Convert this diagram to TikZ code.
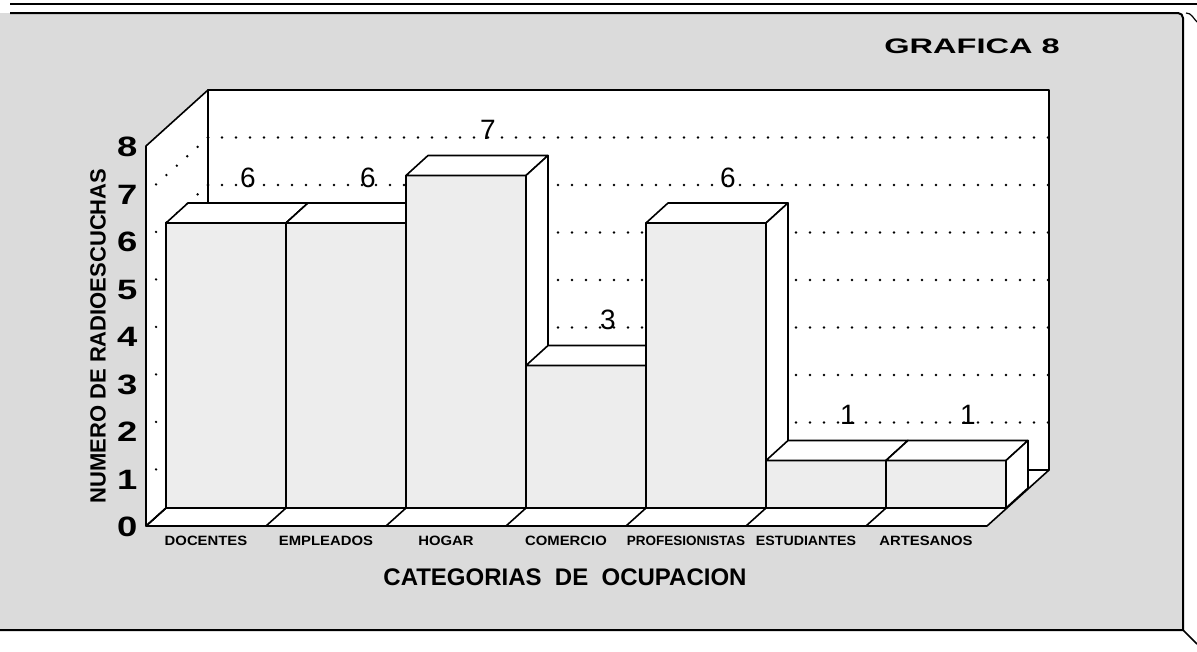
\documentclass[tikz,border=0pt]{standalone}
\usepackage{fontspec}
\usepackage{graphicx}
\setmainfont{Liberation Sans}

\begin{document}
\begin{tikzpicture}[
			x=1pt, y=-1pt,
			edge/.style={draw=black, line width=1.6pt, line join=round},
			wall/.style={edge, fill=white},
			barfront/.style={edge, fill=gray!14},
			barface/.style={edge, fill=white},
			gridline/.style={draw=black, line width=2.6pt, line cap=round,
			dash pattern=on 0pt off 14pt},
			valnum/.style={anchor=base, font=\fontsize{28}{28}\selectfont},
			axisnum/.style={anchor=east, font=\bfseries\fontsize{28}{28}\selectfont},
			catname/.style={font=\bfseries\fontsize{13.5}{13.5}\selectfont}
			]
			\useasboundingbox (0,0) rectangle (1197,651);
			% frame
			\fill[gray!28] (0,13) -- (1178,13) to[out=0,in=90] (1183,18) -- (1183,630) -- (0,630) -- cycle;
			\draw[line width=1.2pt] (10,4) -- (1197,4);
			\draw[line width=2pt] (10,13) -- (1178,13) to[out=0,in=90] (1183,18) -- (1183,630) -- (0,630);
			\draw[line width=1.5pt] (1183,630) -- (1197,644);
			\draw[line width=1.2pt] (1186,13) to[out=0,in=135] (1197,22);
			% floor and walls
			\draw[wall] (146,526) -- (987,526) -- (1049,470) -- (208,470) -- cycle;
			\draw[wall] (146,526) -- (146,146) -- (208,90) -- (208,470) -- cycle;
			\draw[wall] (208,90) rectangle (1049,470);
			% grid
			\draw[gridline] (208,422.5) -- (1049,422.5) (208,375) -- (1049,375)
				(208,327.5) -- (1049,327.5) (208,280) -- (1049,280)
				(208,232.5) -- (1049,232.5) (208,185) -- (1049,185)
				(208,137.5) -- (1049,137.5);
			\draw[gridline] (208,422.5) -- (146,478.5) (208,375) -- (146,431)
				(208,327.5) -- (146,383.5) (208,280) -- (146,336)
				(208,232.5) -- (146,288.5) (208,185) -- (146,241)
				(208,137.5) -- (146,193.5);
			\draw[edge] (166,508) -- (146,526) (286,508) -- (266,526)
				(406,508) -- (386,526) (526,508) -- (506,526)
				(646,508) -- (626,526) (766,508) -- (746,526)
				(886,508) -- (866,526);
			% bars
			\draw[barfront] (166,508) rectangle (286,223);
			\draw[barface] (166,223) -- (286,223) -- (308,203) -- (188,203) -- cycle;
			\draw[barface] (286,223) -- (308,203) -- (308,488) -- (286,508) -- cycle;
			\draw[barfront] (286,508) rectangle (406,223);
			\draw[barface] (286,223) -- (406,223) -- (428,203) -- (308,203) -- cycle;
			\draw[barface] (406,223) -- (428,203) -- (428,488) -- (406,508) -- cycle;
			\draw[barfront] (406,508) rectangle (526,175.5);
			\draw[barface] (406,175.5) -- (526,175.5) -- (548,155.5) -- (428,155.5) -- cycle;
			\draw[barface] (526,175.5) -- (548,155.5) -- (548,488) -- (526,508) -- cycle;
			\draw[barfront] (526,508) rectangle (646,365.5);
			\draw[barface] (526,365.5) -- (646,365.5) -- (668,345.5) -- (548,345.5) -- cycle;
			\draw[barface] (646,365.5) -- (668,345.5) -- (668,488) -- (646,508) -- cycle;
			\draw[barfront] (646,508) rectangle (766,223);
			\draw[barface] (646,223) -- (766,223) -- (788,203) -- (668,203) -- cycle;
			\draw[barface] (766,223) -- (788,203) -- (788,488) -- (766,508) -- cycle;
			\draw[barfront] (766,508) rectangle (886,460.5);
			\draw[barface] (766,460.5) -- (886,460.5) -- (908,440.5) -- (788,440.5) -- cycle;
			\draw[barface] (886,460.5) -- (908,440.5) -- (908,488) -- (886,508) -- cycle;
			\draw[barfront] (886,508) rectangle (1006,460.5);
			\draw[barface] (886,460.5) -- (1006,460.5) -- (1028,440.5) -- (908,440.5) -- cycle;
			\draw[barface] (1006,460.5) -- (1028,440.5) -- (1028,488) -- (1006,508) -- cycle;
			% values
			\node[valnum] (v-doc) at (248,187) {6};
			\node[valnum] (v-emp) at (368,187) {6};
			\node[valnum] (v-hog) at (488,139.5) {7};
			\node[valnum] (v-com) at (608,329.5) {3};
			\node[valnum] (v-pro) at (728,187) {6};
			\node[valnum] (v-est) at (848,424.5) {1};
			\node[valnum] (v-art) at (968,424.5) {1};
			% axis
			\node[axisnum] (n0) at (141,527) {\scalebox{1.3}[1]{0}};
			\node[axisnum] (n1) at (141,479.5) {\scalebox{1.3}[1]{1}};
			\node[axisnum] (n2) at (141,432) {\scalebox{1.3}[1]{2}};
			\node[axisnum] (n3) at (141,384.5) {\scalebox{1.3}[1]{3}};
			\node[axisnum] (n4) at (141,337) {\scalebox{1.3}[1]{4}};
			\node[axisnum] (n5) at (141,289.5) {\scalebox{1.3}[1]{5}};
			\node[axisnum] (n6) at (141,242) {\scalebox{1.3}[1]{6}};
			\node[axisnum] (n7) at (141,194.5) {\scalebox{1.3}[1]{7}};
			\node[axisnum] (n8) at (141,147) {\scalebox{1.3}[1]{8}};
			\node[catname] (c-doc) at (206,541) {\scalebox{1.1}[1]{DOCENTES}};
			\node[catname] (c-emp) at (326,541) {\scalebox{1.1}[1]{EMPLEADOS}};
			\node[catname] (c-hog) at (446,541) {\scalebox{1.1}[1]{HOGAR}};
			\node[catname] (c-com) at (566,541) {\scalebox{1.1}[1]{COMERCIO}};
			\node[catname] (c-pro) at (686,541) {PROFESIONISTAS};
			\node[catname] (c-est) at (806,541) {\scalebox{1.05}[1]{ESTUDIANTES}};
			\node[catname] (c-art) at (926,541) {\scalebox{1.1}[1]{ARTESANOS}};
			\node[font=\bfseries\fontsize{24}{24}\selectfont] (xtitle) at (565,577)
				{CATEGORIAS\ \ DE\ \ OCUPACION};
			\node[rotate=90, font=\bfseries\fontsize{22}{22}\selectfont] (ytitle) at (98,336)
				{NUMERO DE RADIOESCUCHAS};
			\node[font=\bfseries\fontsize{21}{21}\selectfont] (title) at (972,46)
				{\scalebox{1.55}[1]{GRAFICA 8}};
		\end{tikzpicture}
\end{document}
